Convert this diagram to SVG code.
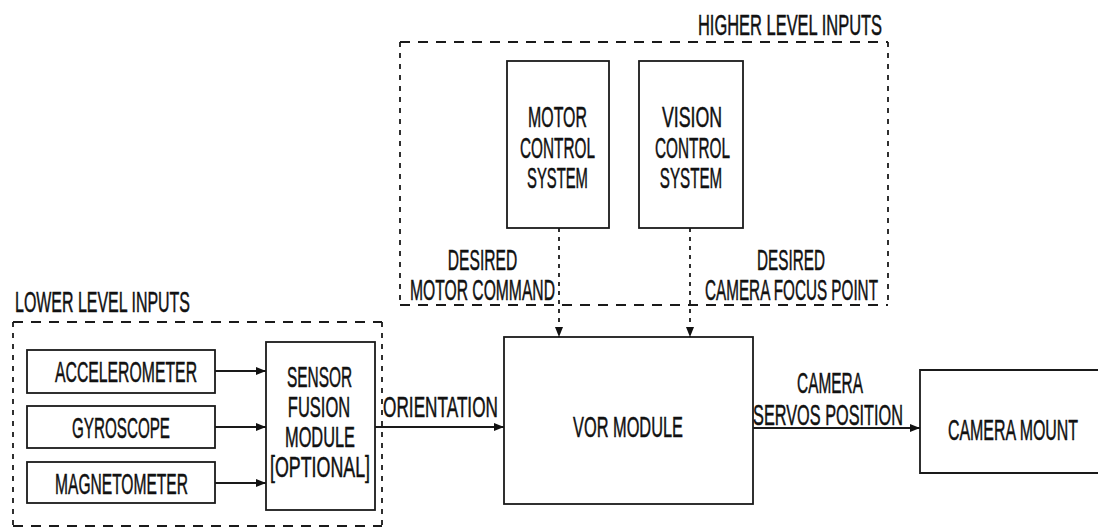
<svg xmlns="http://www.w3.org/2000/svg" width="1098" height="529" viewBox="0 0 1098 529">
<style>
text{font-family:"Liberation Sans",Arial,sans-serif;font-size:29px;fill:#111;stroke:#111;stroke-width:0.5;text-anchor:middle}
.box{fill:#fff;stroke:#1a1a1a;stroke-width:1.8}
.dh{stroke:#1a1a1a;stroke-width:1.8;stroke-dasharray:10 8;fill:none}
.dv{stroke:#1a1a1a;stroke-width:1.8;stroke-dasharray:5 6;fill:none}
.conn{stroke:#1a1a1a;stroke-width:1.8;fill:none}
.connd{stroke:#1a1a1a;stroke-width:1.8;fill:none;stroke-dasharray:4 5}
</style>
<defs>
<marker id="arr" viewBox="0 0 10 10" refX="10" refY="5" markerWidth="10" markerHeight="10" markerUnits="userSpaceOnUse" orient="auto">
<path d="M0,1 L10,5 L0,9 Z" fill="#111"/>
</marker>
</defs>
<rect width="1098" height="529" fill="#fff"/>

<g id="lower-level-inputs">
<line class="dh" x1="13" y1="322" x2="382" y2="322"/>
<line class="dh" x1="13" y1="526" x2="382" y2="526"/>
<line class="dv" x1="13" y1="322" x2="13" y2="526"/>
<line class="dv" x1="382" y1="322" x2="382" y2="526"/>
<text transform="translate(102.5,312) scale(0.7,1)" textLength="250" lengthAdjust="spacingAndGlyphs">LOWER LEVEL INPUTS</text>
</g>

<g id="higher-level-inputs">
<line class="dh" x1="400" y1="42" x2="888" y2="42"/>
<line class="dh" x1="400" y1="305" x2="888" y2="305"/>
<line class="dv" x1="400" y1="42" x2="400" y2="305"/>
<line class="dv" x1="888" y1="42" x2="888" y2="305"/>
<text transform="translate(790,35) scale(0.7,1)" textLength="263" lengthAdjust="spacingAndGlyphs">HIGHER LEVEL INPUTS</text>
</g>

<g id="accelerometer">
<rect class="box" x="27" y="350" width="188" height="43"/>
<text transform="translate(126,382) scale(0.7,1)" textLength="203" lengthAdjust="spacingAndGlyphs">ACCELEROMETER</text>
</g>
<g id="gyroscope">
<rect class="box" x="27" y="406" width="188" height="42"/>
<text transform="translate(121,438) scale(0.7,1)" textLength="140" lengthAdjust="spacingAndGlyphs">GYROSCOPE</text>
</g>
<g id="magnetometer">
<rect class="box" x="27" y="462" width="188" height="41"/>
<text transform="translate(121.5,494) scale(0.7,1)" textLength="190" lengthAdjust="spacingAndGlyphs">MAGNETOMETER</text>
</g>
<g id="sensor-fusion">
<rect class="box" x="266" y="342" width="109" height="168"/>
<text transform="translate(319.5,387) scale(0.7,1)" textLength="93" lengthAdjust="spacingAndGlyphs">SENSOR</text>
<text transform="translate(319,417) scale(0.7,1)" textLength="89" lengthAdjust="spacingAndGlyphs">FUSION</text>
<text transform="translate(320,447) scale(0.7,1)" textLength="100" lengthAdjust="spacingAndGlyphs">MODULE</text>
<text transform="translate(320,477) scale(0.7,1)" textLength="143" lengthAdjust="spacingAndGlyphs">[OPTIONAL]</text>
</g>

<g id="motor-control">
<rect class="box" x="507" y="61" width="102" height="167"/>
<text transform="translate(557.5,127) scale(0.7,1)" textLength="84" lengthAdjust="spacingAndGlyphs">MOTOR</text>
<text transform="translate(557.5,157.5) scale(0.7,1)" textLength="107" lengthAdjust="spacingAndGlyphs">CONTROL</text>
<text transform="translate(557.5,188) scale(0.7,1)" textLength="87" lengthAdjust="spacingAndGlyphs">SYSTEM</text>
</g>
<g id="vision-control">
<rect class="box" x="639" y="61" width="104" height="167"/>
<text transform="translate(692,127) scale(0.7,1)" textLength="86" lengthAdjust="spacingAndGlyphs">VISION</text>
<text transform="translate(692.5,157.5) scale(0.7,1)" textLength="107" lengthAdjust="spacingAndGlyphs">CONTROL</text>
<text transform="translate(691,188) scale(0.7,1)" textLength="89" lengthAdjust="spacingAndGlyphs">SYSTEM</text>
</g>

<g id="vor-module">
<rect class="box" x="504" y="337" width="249" height="167"/>
<text transform="translate(628,437) scale(0.7,1)" textLength="157" lengthAdjust="spacingAndGlyphs">VOR MODULE</text>
</g>

<g id="camera-mount">
<rect x="920" y="370" width="178" height="103" fill="#fff"/>
<path class="box" d="M1098,370 H920 V473 H1098" fill="none"/>
<text transform="translate(1013,440) scale(0.7,1)" textLength="186" lengthAdjust="spacingAndGlyphs">CAMERA MOUNT</text>
</g>

<g id="connectors">
<line class="conn" x1="215" y1="371" x2="266" y2="371" marker-end="url(#arr)"/>
<line class="conn" x1="215" y1="427" x2="266" y2="427" marker-end="url(#arr)"/>
<line class="conn" x1="215" y1="483" x2="266" y2="483" marker-end="url(#arr)"/>
<line class="conn" x1="375" y1="427" x2="504" y2="427" marker-end="url(#arr)"/>
<line class="connd" x1="559" y1="228" x2="559" y2="337" marker-end="url(#arr)"/>
<line class="connd" x1="690" y1="228" x2="690" y2="337" marker-end="url(#arr)"/>
<line class="conn" x1="753" y1="428" x2="920" y2="428" marker-end="url(#arr)"/>
<text transform="translate(440.5,417) scale(0.7,1)" textLength="164" lengthAdjust="spacingAndGlyphs">ORIENTATION</text>
<text transform="translate(482.5,270) scale(0.7,1)" textLength="99" lengthAdjust="spacingAndGlyphs">DESIRED</text>
<text transform="translate(482.5,300) scale(0.7,1)" textLength="207" lengthAdjust="spacingAndGlyphs">MOTOR COMMAND</text>
<text transform="translate(791,270) scale(0.7,1)" textLength="97" lengthAdjust="spacingAndGlyphs">DESIRED</text>
<text transform="translate(791.5,300) scale(0.7,1)" textLength="247" lengthAdjust="spacingAndGlyphs">CAMERA FOCUS POINT</text>
<text transform="translate(830,393) scale(0.7,1)" textLength="94" lengthAdjust="spacingAndGlyphs">CAMERA</text>
<text transform="translate(828,425) scale(0.7,1)" textLength="214" lengthAdjust="spacingAndGlyphs">SERVOS POSITION</text>
</g>
</svg>
